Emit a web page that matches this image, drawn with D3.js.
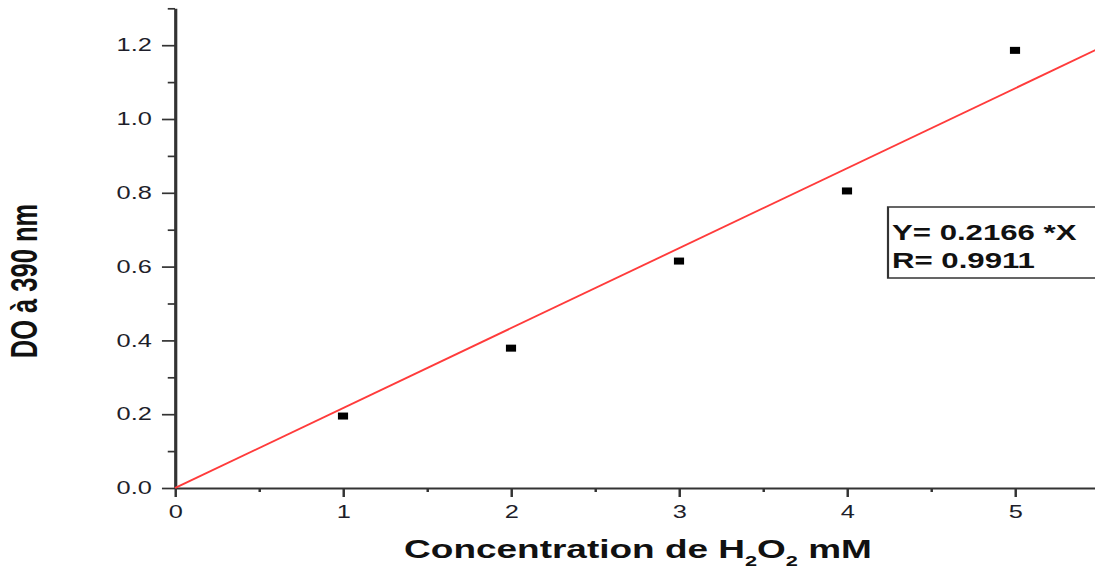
<!DOCTYPE html>
<html>
<head>
<meta charset="utf-8">
<script src="https://cdn.jsdelivr.net/npm/d3@7"></script>
<style>
  html, body { margin: 0; padding: 0; background: #fff; }
  svg { display: block; }
</style>
</head>
<body>
<div id="chart"></div>
<script>
// data
var concentrations = [1, 2, 3, 4, 5]
var absorbances = [0.195, 0.379, 0.615, 0.805, 1.186]
var fitSlope = 0.2166
var fitR = 0.9911
var fitRange = [0, 5.5]
var xTicks = [0, 1, 2, 3, 4, 5]
var xMinorTicks = [0.5, 1.5, 2.5, 3.5, 4.5, 5.5]
var yTicks = [0, 0.2, 0.4, 0.6, 0.8, 1.0, 1.2]
var yMinorTicks = [0.1, 0.3, 0.5, 0.7, 0.9, 1.1, 1.3]

// the original figure is stretched horizontally; draw in a narrow box and stretch it
var width = 1095
var height = 575
var stretch = 1.45
var vw = width / stretch

var svg = d3.select('#chart').append('svg')
  .attr('width', width)
  .attr('height', height)
  .attr('viewBox', `0 0 ${vw} ${height}`)
  .attr('preserveAspectRatio', 'none')
  .style('font-family', 'Arial, "Liberation Sans", sans-serif')

var x = d3.scaleLinear()
  .domain([0, 5.5])
  .range([175 / stretch, 1099 / stretch])

var y = d3.scaleLinear()
  .domain([0, 1.3])
  .range([488, 8.3])

var axisColor = '#333'
var textColor = '#1e1e2a'

// minor ticks first
svg.append('g')
  .attr('transform', `translate(0,${y(0)})`)
  .call(d3.axisBottom(x).tickValues(xMinorTicks).tickSize(4).tickFormat(''))
  .call(g => g.select('.domain').remove())

svg.append('g')
  .attr('transform', `translate(${x(0)},0)`)
  .call(d3.axisLeft(y).tickValues(yMinorTicks).tickSize(5).tickFormat(''))
  .call(g => g.select('.domain').remove())

var xAxis = svg.append('g')
  .attr('transform', `translate(0,${y(0)})`)
  .call(d3.axisBottom(x).tickValues(xTicks).tickSize(9).tickPadding(9).tickSizeOuter(0).tickFormat(d3.format('d')))

var yAxis = svg.append('g')
  .attr('transform', `translate(${x(0)},0)`)
  .call(d3.axisLeft(y).tickValues(yTicks).tickSize(9).tickPadding(7).tickSizeOuter(0).tickFormat(d3.format('.1f')))

svg.selectAll('.tick line')
  .attr('stroke', axisColor)
  .attr('stroke-width', 1.7)
svg.selectAll('.domain')
  .attr('stroke', axisColor)
  .attr('stroke-width', 2.2)

;[xAxis, yAxis].forEach(g => {
  g.selectAll('text')
    .attr('fill', textColor)
    .style('font-size', '17.5px')
})

// fitted line
svg.append('line')
  .attr('x1', x(fitRange[0]))
  .attr('y1', y(fitSlope * fitRange[0]))
  .attr('x2', x(fitRange[1]))
  .attr('y2', y(fitSlope * fitRange[1]))
  .attr('stroke', '#ff3b3b')
  .attr('stroke-width', 1.7)

// data points
var pts = concentrations.map((c, i) => ({ c: c, a: absorbances[i] }))
var ms = 7
svg.append('g')
  .selectAll('rect')
  .data(pts)
  .enter()
  .append('rect')
  .attr('x', d => x(d.c) - ms / 2)
  .attr('y', d => y(d.a) - ms / 2)
  .attr('width', ms)
  .attr('height', ms)
  .attr('fill', '#000')

// equation box
var box = svg.append('g')
box.append('rect')
  .attr('x', 888 / stretch)
  .attr('y', 207)
  .attr('width', 250 / stretch)
  .attr('height', 71)
  .attr('fill', '#fff')
  .attr('stroke', '#333')
  .attr('stroke-width', 1.5)
box.append('text')
  .attr('x', 892 / stretch)
  .attr('y', 240)
  .attr('fill', '#111')
  .style('font-size', '21.5px')
  .style('font-weight', 'bold')
  .text('Y= ' + fitSlope.toFixed(4) + ' *X')
box.append('text')
  .attr('x', 892 / stretch)
  .attr('y', 268)
  .attr('fill', '#111')
  .style('font-size', '21.5px')
  .style('font-weight', 'bold')
  .text('R= ' + fitR.toFixed(4))

// axis titles
svg.append('text')
  .attr('transform', `translate(${37 / stretch},281) rotate(-90)`)
  .attr('text-anchor', 'middle')
  .attr('fill', '#111')
  .style('font-size', '25.5px')
  .style('font-weight', 'bold')
  .text('DO à 390 nm')

var xt = svg.append('text')
  .attr('x', 638 / stretch)
  .attr('y', 558)
  .attr('text-anchor', 'middle')
  .attr('fill', '#111')
  .style('font-size', '25.5px')
  .style('font-weight', 'bold')
xt.append('tspan').text('Concentration de H')
xt.append('tspan').attr('dy', 8).style('font-size', '15px').text('2')
xt.append('tspan').attr('dy', -8).text('O')
xt.append('tspan').attr('dy', 8).style('font-size', '15px').text('2')
xt.append('tspan').attr('dy', -8).text(' mM')
</script>
</body>
</html>
